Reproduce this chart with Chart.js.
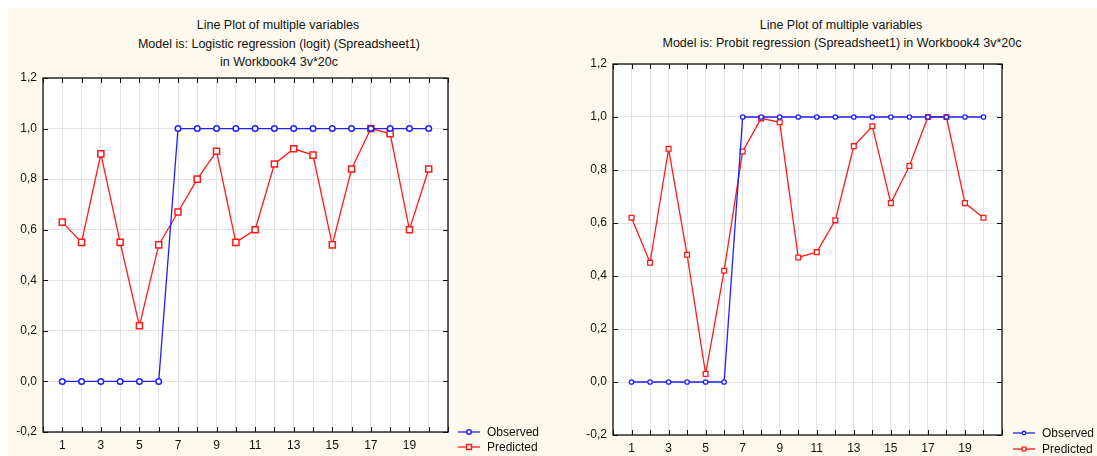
<!DOCTYPE html>
<html>
<head>
<meta charset="utf-8">
<title>Line Plot of multiple variables</title>
<script src="https://cdn.jsdelivr.net/npm/chart.js@4/dist/chart.umd.min.js"></script>
<style>
    html, body { margin: 0; padding: 0; background: #fff; }
    body { width: 1097px; height: 456px; position: relative; overflow: hidden; font-family: "Liberation Sans", Arial, sans-serif; }
    .sheet { position: absolute; left: 8px; top: 8px; right: 0; bottom: 0; background: #fdf9ee; }
    .panel { position: absolute; top: 8px; height: 448px; }
    .title { position: absolute; font-size: 12.5px; line-height: 14px; color: #111; white-space: nowrap; transform: translateX(-50%); }
</style>
</head>
<body>
<div class="sheet"></div>

<div class="title" style="left:278px; top:18px;">Line Plot of multiple variables</div>
<div class="title" style="left:279px; top:37px;">Model is: Logistic regression (logit) (Spreadsheet1)</div>
<div class="title" style="left:279px; top:55px;">in Workbook4 3v*20c</div>

<div class="title" style="left:841px; top:18px;">Line Plot of multiple variables</div>
<div class="title" style="left:842px; top:36px;">Model is: Probit regression (Spreadsheet1) in Workbook4 3v*20c</div>

<div class="panel" style="left:8px; width:535px;"><canvas id="logitChart" width="535" height="448"></canvas></div>
<div class="panel" style="left:543px; width:554px;"><canvas id="probitChart" width="554" height="448"></canvas></div>

<script>
// case numbers 1..20
const caseNumbers = [1, 2, 3, 4, 5, 6, 7, 8, 9, 10, 11, 12, 13, 14, 15, 16, 17, 18, 19, 20];

// observed response (same in both models)
const observed = [0, 0, 0, 0, 0, 0, 1, 1, 1, 1, 1, 1, 1, 1, 1, 1, 1, 1, 1, 1];

// predicted values, logit model
const predictedLogit = [0.63, 0.55, 0.90, 0.55, 0.22, 0.54, 0.67, 0.80, 0.91, 0.55,
                        0.60, 0.86, 0.92, 0.895, 0.54, 0.84, 1.00, 0.98, 0.60, 0.84];

// predicted values, probit model
const predictedProbit = [0.62, 0.45, 0.88, 0.48, 0.03, 0.42, 0.87, 0.995, 0.98, 0.47,
                         0.49, 0.61, 0.89, 0.965, 0.675, 0.815, 1.00, 1.00, 0.675, 0.62];

const seriesNames = ['Observed', 'Predicted'];
const xTickLabels = [1, 3, 5, 7, 9, 11, 13, 15, 17, 19];
const yRange = { min: -0.2, max: 1.2, step: 0.2 };

const BLUE = '#1f1fff';
const RED = '#ff1a1a';

// 0.2 steps come out as -1e-17 etc, so round before printing with a comma
function commaLabel(v) {
    const r = Math.round(v * 10) / 10;
    return (r === 0 ? 0 : r).toFixed(1).replace('.', ',');
}

// white plot area, black frame and short inward ticks on all four sides
const framePlugin = {
    id: 'frame',
    beforeDraw(chart) {
        const { ctx, chartArea: a } = chart;
        ctx.save();
        ctx.fillStyle = '#ffffff';
        ctx.fillRect(a.left, a.top, a.right - a.left, a.bottom - a.top);
        ctx.restore();
    },
    afterDraw(chart) {
        const { ctx, chartArea: a, scales } = chart;
        const len = 5;
        ctx.save();
        ctx.strokeStyle = '#111';
        ctx.lineWidth = 1.3;
        ctx.strokeRect(a.left, a.top, a.right - a.left, a.bottom - a.top);
        ctx.lineWidth = 1;
        ctx.beginPath();
        scales.x.ticks.forEach(t => {
            const px = Math.round(scales.x.getPixelForValue(t.value)) + 0.5;
            ctx.moveTo(px, a.top); ctx.lineTo(px, a.top + len);
            ctx.moveTo(px, a.bottom); ctx.lineTo(px, a.bottom - len);
        });
        scales.y.ticks.forEach(t => {
            const py = Math.round(scales.y.getPixelForValue(t.value)) + 0.5;
            ctx.moveTo(a.left, py); ctx.lineTo(a.left + len, py);
            ctx.moveTo(a.right, py); ctx.lineTo(a.right - len, py);
        });
        ctx.stroke();
        ctx.restore();
    }
};

// legend to the right of the plot: line sample with marker, then the name
const sideLegendPlugin = {
    id: 'sideLegend',
    afterDraw(chart, args, opts) {
        const { ctx } = chart;
        ctx.save();
        chart.data.datasets.forEach((ds, i) => {
            const y = opts.y + i * opts.rowGap;
            ctx.strokeStyle = ds.borderColor;
            ctx.lineWidth = ds.borderWidth;
            ctx.beginPath();
            ctx.moveTo(opts.x, y);
            ctx.lineTo(opts.x + opts.lineLen, y);
            ctx.stroke();
            ctx.fillStyle = '#ffffff';
            ctx.strokeStyle = ds.borderColor;
            ctx.lineWidth = ds.pointBorderWidth;
            Chart.helpers.drawPoint(ctx, {
                pointStyle: ds.pointStyle,
                radius: ds.pointRadius * 0.8,
                rotation: 0,
                borderWidth: ds.pointBorderWidth
            }, opts.x + opts.lineLen / 2, y);
            ctx.fillStyle = '#111';
            ctx.font = '12px "Liberation Sans", Arial, sans-serif';
            ctx.textBaseline = 'middle';
            ctx.textAlign = 'left';
            ctx.fillText(ds.label, opts.x + opts.lineLen + opts.textGap, y + 1);
        });
        ctx.restore();
    }
};

function toPoints(values) {
    return caseNumbers.map((c, i) => ({ x: c, y: values[i] }));
}

function makePanel(canvasId, predicted, look) {
    const ctx = document.getElementById(canvasId).getContext('2d');
    return new Chart(ctx, {
        type: 'line',
        data: {
            datasets: [{
                label: seriesNames[0],
                data: toPoints(observed),
                borderColor: BLUE,
                backgroundColor: '#ffffff',
                borderWidth: look.lineWidth,
                pointStyle: 'circle',
                pointRadius: look.circleRadius,
                pointBorderWidth: look.markerBorder,
                pointBackgroundColor: '#ffffff',
                tension: 0
            }, {
                label: seriesNames[1],
                data: toPoints(predicted),
                borderColor: RED,
                backgroundColor: '#ffffff',
                borderWidth: look.lineWidth,
                pointStyle: 'rect',
                pointRadius: look.rectRadius,
                pointBorderWidth: look.markerBorder,
                pointBackgroundColor: '#ffffff',
                tension: 0
            }]
        },
        options: {
            responsive: false,
            animation: false,
            events: [],
            layout: { padding: look.padding },
            scales: {
                x: {
                    type: 'linear',
                    min: 0,
                    max: 21,
                    afterFit: s => { s.height = look.xAxisHeight; },
                    grid: { color: '#e3e3e3', lineWidth: 1, drawTicks: false },
                    border: { display: false },
                    ticks: {
                        stepSize: 1,
                        autoSkip: false,
                        maxRotation: 0,
                        padding: 6,
                        color: '#111',
                        font: { family: '"Liberation Sans", Arial, sans-serif', size: 12 },
                        callback: v => xTickLabels.includes(v) ? String(v) : ''
                    }
                },
                y: {
                    min: yRange.min,
                    max: yRange.max,
                    afterFit: s => { s.width = look.yAxisWidth; },
                    grid: { color: '#e3e3e3', lineWidth: 1, drawTicks: false },
                    border: { display: false },
                    ticks: {
                        stepSize: yRange.step,
                        padding: 6,
                        color: '#111',
                        font: { family: '"Liberation Sans", Arial, sans-serif', size: 12 },
                        callback: commaLabel
                    }
                }
            },
            plugins: {
                legend: { display: false },
                tooltip: { enabled: false },
                sideLegend: look.legend
            }
        },
        plugins: [framePlugin, sideLegendPlugin]
    });
}

makePanel('logitChart', predictedLogit, {
    padding: { left: 0, top: 70, right: 95, bottom: 0 },
    yAxisWidth: 35,
    xAxisHeight: 24,
    lineWidth: 1.3,
    circleRadius: 2.8,
    rectRadius: 4.3,
    markerBorder: 1.5,
    legend: { x: 450, y: 424, rowGap: 15, lineLen: 22, textGap: 7 }
});

makePanel('probitChart', predictedProbit, {
    padding: { left: 35, top: 56, right: 95, bottom: 0 },
    yAxisWidth: 35,
    xAxisHeight: 21,
    lineWidth: 1.3,
    circleRadius: 2.2,
    rectRadius: 3.4,
    markerBorder: 1.3,
    legend: { x: 470, y: 425, rowGap: 16, lineLen: 22, textGap: 7 }
});
</script>
</body>
</html>
